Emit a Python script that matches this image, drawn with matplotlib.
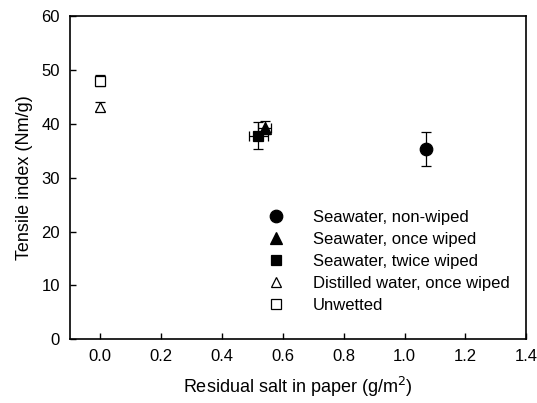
import matplotlib.pyplot as plt

plt.rcParams['font.family'] = ['Liberation Sans', 'DejaVu Sans']

# data
labels = ["Seawater, non-wiped", "Seawater, once wiped", "Seawater, twice wiped",
          "Distilled water, once wiped", "Unwetted"]
salt = [1.07, 0.54, 0.52, 0.0, 0.0]
salt_err = [0.0, 0.02, 0.03, 0.0, 0.0]
tensile = [35.3, 39.3, 37.8, 43.2, 48.0]
tensile_err = [3.2, 1.2, 2.5, 0.8, 1.0]
markers = ["o", "^", "s", "^", "s"]
filled = [True, True, True, False, False]
sizes = [9, 8, 7.5, 8, 7.5]

fig, ax = plt.subplots(figsize=(5.37, 4.03), dpi=100)
fig.subplots_adjust(left=0.13, right=0.98, top=0.96, bottom=0.158)

for i in range(len(labels)):
    ax.errorbar(salt[i], tensile[i], yerr=tensile_err[i],
                xerr=salt_err[i] if salt_err[i] > 0 else None,
                fmt=markers[i], ms=sizes[i] if filled[i] else sizes[i] - 1,
                mfc="black" if filled[i] else "white", mec="black", mew=0.9,
                ecolor="black", elinewidth=0.9, capsize=3.5, capthick=0.9,
                label=labels[i])

ax.set_xlim(-0.1, 1.4)
ax.set_ylim(0, 60)
ax.set_xticks([0.0, 0.2, 0.4, 0.6, 0.8, 1.0, 1.2, 1.4])
ax.set_yticks([0, 10, 20, 30, 40, 50, 60])
ax.tick_params(direction="in", length=4, width=1, labelsize=12, pad=7,
               top=False, right=False)
for s in ax.spines.values():
    s.set_linewidth(1.2)

ax.set_xlabel("Residual salt in paper (g/m$^2$)", fontsize=13, labelpad=8)
ax.set_ylabel("Tensile index (Nm/g)", fontsize=13, labelpad=6)

handles, lbls = ax.get_legend_handles_labels()
handles = [h[0] for h in handles]
ax.legend(handles, lbls, loc="lower right", frameon=False, fontsize=12,
          handletextpad=1.6, labelspacing=0.42, borderaxespad=0.6,
          handlelength=1.2, bbox_to_anchor=(1.0, 0.03))

plt.savefig("out.png", dpi=100)
